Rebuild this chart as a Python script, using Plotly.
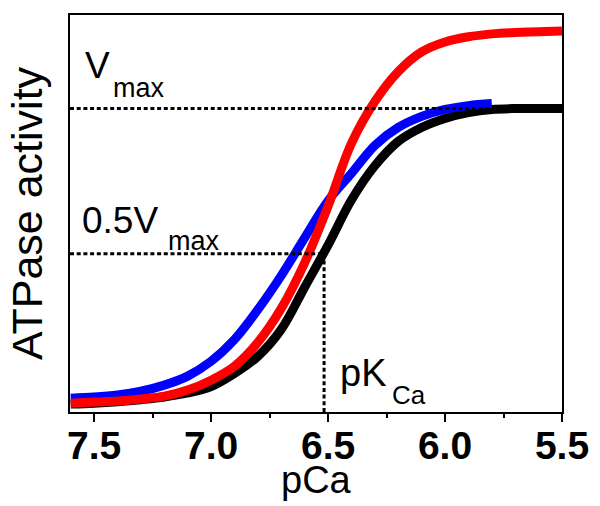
import plotly.graph_objects as go

# ---- data ----
pca_grid = [7.6, 7.5, 7.4, 7.3, 7.2, 7.1, 7.0, 6.9, 6.8, 6.7, 6.6, 6.5, 6.4,
            6.3, 6.2, 6.1, 6.0, 5.9, 5.8, 5.7, 5.6, 5.5]
act_black = [-0.017, -0.014, -0.009, -0.002, 0.007, 0.021, 0.043, 0.088, 0.147,
             0.240, 0.385, 0.530, 0.685, 0.803, 0.887, 0.935, 0.966, 0.986,
             0.997, 1.000, 1.000, 1.000]
act_red = [-0.014, -0.010, -0.007, 0.000, 0.010, 0.031, 0.065, 0.113, 0.195,
           0.312, 0.469, 0.664, 0.880, 1.024, 1.127, 1.195, 1.229, 1.247,
           1.257, 1.262, 1.264, 1.267]
pca_blue = [7.6, 7.5, 7.4, 7.3, 7.2, 7.1, 7.0, 6.9, 6.8, 6.7, 6.6, 6.5, 6.4,
            6.3, 6.2, 6.1, 6.0, 5.9, 5.8]
act_blue = [0.003, 0.007, 0.014, 0.027, 0.048, 0.079, 0.130, 0.205, 0.308,
            0.425, 0.555, 0.682, 0.777, 0.873, 0.935, 0.973, 0.997, 1.010, 1.017]

vmax_level = 1.0
half_level = 0.5
pkca = 6.517

tick_vals = [7.5, 7.0, 6.5, 6.0, 5.5]
tick_text = ["7.5", "7.0", "6.5", "6.0", "5.5"]

FONT = "Arial, Liberation Sans, sans-serif"
X0, X1 = 7.603, 5.5
Y0, Y1 = -0.0445, 1.322

fig = go.Figure()
for xs, ys, col in [(pca_grid, act_black, "black"),
                    (pca_blue, act_blue, "#0000ff"),
                    (pca_grid, act_red, "#ff0000")]:
    fig.add_trace(go.Scatter(x=xs, y=ys, mode="lines",
                             line=dict(color=col, width=9, shape="spline", smoothing=1.0),
                             showlegend=False, hoverinfo="skip"))

dot = dict(color="black", width=3, dash="4px,2.7px")
fig.add_shape(type="line", xref="paper", yref="y", x0=0, x1=1,
              y0=vmax_level, y1=vmax_level, line=dot)
fig.add_shape(type="line", xref="x", yref="y", x0=X0, x1=pkca,
              y0=half_level, y1=half_level, line=dot)
fig.add_shape(type="line", xref="x", yref="y", x0=pkca, x1=pkca,
              y0=Y0, y1=half_level, line=dot)

# page has an 8px body margin; plot area in window pixels: x 70..562, y 13..412
PL, PR, PT, PB = 70, 562, 13, 412

def px(x):
    return (x - PL) / (PR - PL)

def py(y):
    return (PB - y) / (PB - PT)

def txt(x, y, s, size, anchor="left", angle=0):
    fig.add_annotation(x=px(x), y=py(y), xref="paper", yref="paper", text=s,
                       showarrow=False, xanchor=anchor, yanchor="middle",
                       textangle=angle,
                       font=dict(family=FONT, size=size, color="black"))

txt(83, 64, "V", 37)
txt(111, 86, "max", 27)
txt(80, 220, "0.5V", 37)
txt(166, 240, "max", 27)
txt(338, 373, "pK", 38)
txt(390, 395, "Ca", 26)
txt(316, 480, "pCa", 38, anchor="center")
txt(27, 212, "ATPase activity", 43, anchor="center", angle=-90)

fig.update_layout(
    width=592, height=498,
    margin=dict(l=PL - 8, r=600 - PR, t=PT - 8, b=506 - PB),
    paper_bgcolor="white", plot_bgcolor="white",
    xaxis=dict(range=[X0, X1], tickvals=tick_vals, ticktext=tick_text,
               ticks="outside", ticklen=8, tickwidth=2, tickcolor="black",
               ticklabelstandoff=-10,
               minor=dict(tickvals=[7.25, 6.75, 6.25, 5.75], ticks="outside",
                          ticklen=4, tickwidth=2, tickcolor="black"),
               showline=True, linewidth=2, linecolor="black", mirror=True,
               showgrid=False, zeroline=False,
               tickfont=dict(family=FONT, size=39, color="black", weight="bold")),
    yaxis=dict(range=[Y0, Y1], showticklabels=False, ticks="",
               showline=True, linewidth=2, linecolor="black", mirror=True,
               showgrid=False, zeroline=False),
)

fig.write_html("out.html")
